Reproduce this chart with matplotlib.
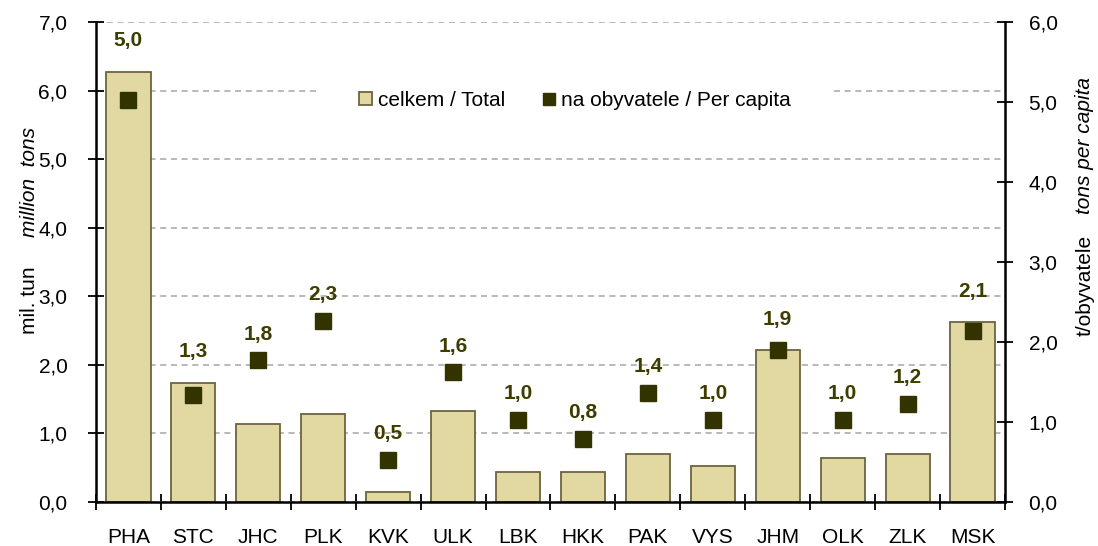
import matplotlib.pyplot as plt
from matplotlib.patches import Patch
from matplotlib.lines import Line2D
import numpy as np

regions = ['PHA', 'STC', 'JHC', 'PLK', 'KVK', 'ULK', 'LBK', 'HKK', 'PAK', 'VYS', 'JHM', 'OLK', 'ZLK', 'MSK']
total_mil_t = [6.27, 1.74, 1.14, 1.28, 0.15, 1.33, 0.44, 0.44, 0.70, 0.52, 2.21, 0.64, 0.70, 2.62]
per_capita_t = [5.02, 1.34, 1.77, 2.26, 0.53, 1.62, 1.03, 0.79, 1.36, 1.03, 1.90, 1.03, 1.23, 2.14]

plt.rcParams['font.family'] = ['Liberation Sans', 'DejaVu Sans']
plt.rcParams['font.size'] = 15

bar_col = '#e2d8a1'
edge_col = '#6b6440'
mark_col = '#333300'
lab_col = '#3d3d00'

fig = plt.figure(figsize=(10.98, 5.46), dpi=100)
ax = fig.add_axes([0.0874, 0.0806, 0.8279, 0.8791])
ax2 = ax.twinx()

left_max, right_max = 7, 6
x = np.arange(len(regions))
ax.bar(x, total_mil_t, width=0.68, color=bar_col, edgecolor=edge_col, linewidth=1.3, zorder=2)
ax2.plot(x, per_capita_t, 's', color=mark_col, markersize=11, zorder=3)
# labels sit above the marker, or above the bar when the bar is taller
for xi, v, b in zip(x, per_capita_t, total_mil_t):
    anchor = max(v, b * right_max / left_max + 0.06)
    ax2.annotate(f'{v:.1f}'.replace('.', ','), (xi, anchor), xytext=(0, 15), textcoords='offset points',
                 ha='center', va='baseline', fontweight='bold', color=lab_col, fontsize=15)

ax.set_xlim(-0.5, len(regions) - 0.5)
ax.set_ylim(0, left_max)
ax2.set_ylim(0, right_max)
lt = np.arange(0, left_max + 0.1, 1)
rt = np.arange(0, right_max + 0.1, 1)
ax.set_yticks(lt)
ax.set_yticklabels([f'{v:.1f}'.replace('.', ',') for v in lt])
ax2.set_yticks(rt)
ax2.set_yticklabels([f'{v:.1f}'.replace('.', ',') for v in rt])

ax.set_xticks(x)
ax.set_xticklabels(regions)
ax.set_xticks(np.arange(-0.5, len(regions), 1), minor=True)
ax.tick_params(axis='x', which='major', length=0, pad=19)
ax.tick_params(axis='x', which='minor', direction='inout', length=12, width=1.3)
ax.tick_params(axis='y', direction='inout', length=12, width=1.3, pad=14.5)
ax2.tick_params(axis='y', direction='inout', length=12, width=1.3, pad=11)

ax.yaxis.grid(True, linestyle=(0, (4, 3)), color='#a6a6a6', linewidth=1.1, zorder=0)
ax.set_axisbelow(True)

for a in (ax, ax2):
    a.spines['top'].set_visible(False)
    for s in ('left', 'right', 'bottom'):
        a.spines[s].set_linewidth(1.8)
ax.spines['right'].set_visible(False)
ax2.spines['left'].set_visible(False)
ax2.spines['bottom'].set_visible(False)

# axis titles: plain + italic parts
fig.text(0.027, 0.45, 'mil. tun', rotation=90, ha='center', va='center', fontsize=15)
fig.text(0.027, 0.667, 'million  tons', rotation=90, ha='center', va='center', fontsize=15, style='italic')
fig.text(0.988, 0.478, 't/obyvatele', rotation=90, ha='center', va='center', fontsize=15)
fig.text(0.988, 0.734, 'tons per capita', rotation=90, ha='center', va='center', fontsize=15, style='italic')

handles = [Patch(facecolor=bar_col, edgecolor=edge_col, linewidth=1.3, label='celkem / Total'),
           Line2D([], [], marker='s', linestyle='none', color=mark_col, markersize=8,
                  label='na obyvatele / Per capita')]
leg = ax2.legend(handles=handles, loc='center', bbox_to_anchor=(0.527, 0.8375), ncol=2,
                 frameon=True, fancybox=False, handlelength=0.6, handleheight=0.6,
                 handletextpad=0.3, columnspacing=1.8, fontsize=15, borderpad=1.9)
leg.get_frame().set_edgecolor('none')
leg.get_frame().set_facecolor('white')
leg.get_frame().set_alpha(1)

fig.savefig('out.png', dpi=100)
